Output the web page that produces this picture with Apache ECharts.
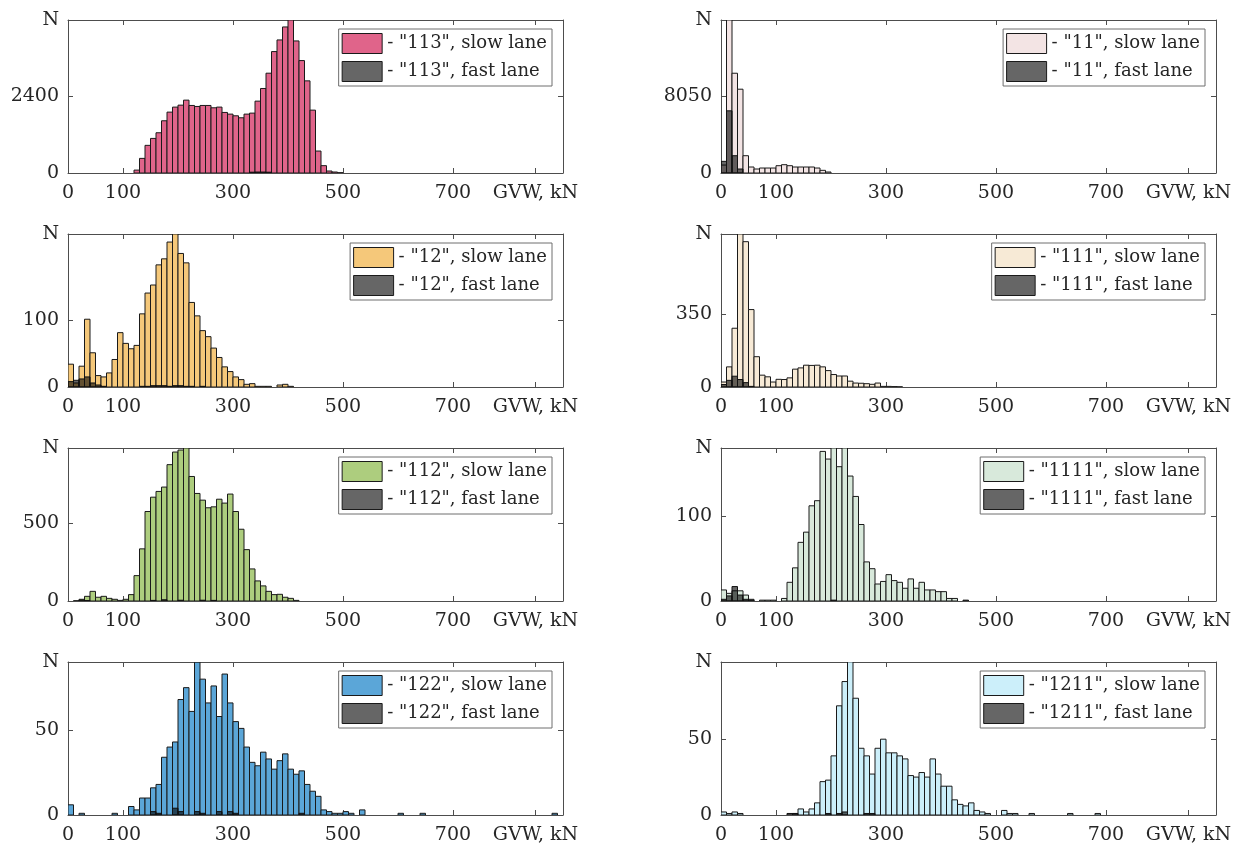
<!DOCTYPE html>
<html><head><meta charset="utf-8">
<script src="https://cdn.jsdelivr.net/npm/echarts@6/dist/echarts.min.js"></script>
<style>html,body{margin:0;padding:0;background:#fff}#c{width:1241px;height:850px}</style>
</head><body><div id="c"></div><script>
// ---------- DATA ----------
const binWidth = 10; // kN, histogram bins start at 0
const xTickValues = [0, 100, 300, 500, 700, 850];
const xTickLabels = ['0', '100', '300', '500', '700', 'GVW, kN'];

const panelNames = ['113', '11', '12', '111', '112', '1111', '122', '1211'];
const slowColors = ['#E0648A', '#F3E4E4', '#F5C87A', '#F7EAD6', '#ADCD7E', '#D8E9DB', '#5BA6D8', '#CCEFFA'];
const yMaxValues = [4760, 15965, 228, 737, 983, 180, 90.1, 100.9];
const yMidTicks = [2400, 8050, 100, 350, 500, 100, 50, 50];

// counts per 10 kN bin, first bin = 0-10 kN
const slow113 = [0,0,0,0,0,0,0,0,0,0,0,0,90,455,860,1076,1252,1625,1894,2050,2111,2267,2101,2070,2101,2101,2029,2050,1884,1832,1780,1718,1832,1863,2236,2629,3105,3778,4140,4544,4760,4109,3498,2867,1956,683,228,62,31,10];
const fast113 = [0,0,0,0,0,0,0,0,0,0,0,0,0,0,0,0,0,0,0,0,0,0,0,0,0,0,0,0,0,0,0,0,0,25,30,30,25];

const slow11 = [830,15965,10410,8744,1804,625,416,520,520,520,763,867,763,625,625,625,625,520,278,104];
const fast11 = [1215,6489,1804,416];

const slow12 = [34,6,31,101,51,17,15,21,41,81,65,57,62,109,140,152,182,191,216,228,199,185,126,106,84,75,58,44,30,23,15,11,4,5,1,1,1,0,3,4,1];
const fast12 = [8,10,12,15,6,3,1,0,0,0,0,0,0,1,1,2,2,2,1,2,2,1,1,0,1];

const slow111 = [24,97,283,737,700,373,146,57,49,24,37,36,44,86,92,105,104,105,97,79,60,53,53,28,19,18,16,13,19,3,3,2,1];
const fast111 = [12,32,52,36,21,3];

const slow112 = [0,2,11,30,62,24,30,17,11,4,11,41,163,335,575,667,704,732,876,957,970,983,800,691,648,599,605,654,629,687,575,461,330,206,129,97,62,41,43,24,17,4];
const fast112 = [0,0,6,3,0,0,0,0,0,0,0,0,0,0,0,4,0,8,0,0,5,0,0,0,5,0,4,0,0,0,0,0];

const slow1111 = [13,9,12,12,7,2,0,1,1,1,0,3,22,39,69,81,112,118,176,167,180,158,180,147,123,90,46,38,20,23,31,24,22,15,26,15,22,13,13,11,11,3,3];
const fast1111 = [2,6,17,7,2,1,0,0,0,0,0,0,0,0,0,0,0,0,0,0,1,0,0,0,0,0,0,0,0,0,0,0,0,0,0,0,0,0,0,0,0,0,0,0,1];

const slow122 = [6,0,1,0,0,0,0,0,1,0,0,5,3,10,10,16,18,34,40,43,68,75,61,90,80,66,76,58,83,66,55,51,40,31,29,37,33,27,32,36,27,24,26,18,14,11,3,2,1,1,2,1,0,3,0,0,0,0,0,0,1,0,0,0,1,0,0,0,0,0,0,0,0,0,0,0,0,0,0,0,0,0,0,0,0,0,0,0,1];
const fast122 = [0,0,0,0,0,0,0,0,0,0,0,0,0,0,0,2,1,0,0,4,2,0,0,2,1,0,0,2,0,2,1,0,0,0,0,0,0,0,0,0,0,0,1];

const slow1211 = [2,1,2,1,0,0,0,0,0,0,0,0,0,1,4,2,4,8,22,23,39,72,88,101,77,44,39,27,44,50,41,41,39,37,26,25,28,25,37,27,19,19,10,7,6,8,3,2,1,0,0,3,1,1,0,0,1,0,0,0,0,0,0,1,0,0,0,0,1];
const fast1211 = [0,0,0,0,0,0,0,0,0,0,0,0,1,1,0,0,0,0,0,1,0,1,2,0,0,0,1,1];

const slowData = [slow113, slow11, slow12, slow111, slow112, slow1111, slow122, slow1211];
const fastData = [fast113, fast11, fast12, fast111, fast112, fast1111, fast122, fast1211];

// ---------- LAYOUT / STYLE ----------
const FONT = 'DejaVu Serif';
const FS = 19;
const LFS = 18;
const TEXT = '#262626';
const AXIS = '#4d4d4d';
const colLeft = [68, 721];
const rowTop = [20, 234, 448, 662];
const gridW = 495, gridH = 153;
const legendRight = [689, 36];

const chart = echarts.init(document.getElementById('c'), null, {renderer: 'canvas'});

function binsToData(arr) {
  const out = [];
  arr.forEach((c, k) => { if (c > 0) out.push([k * binWidth, (k + 1) * binWidth, c]); });
  return out;
}
function renderer(fill, stroke) {
  return function (params, api) {
    const a = api.coord([api.value(0), 0]);
    const b = api.coord([api.value(1), api.value(2)]);
    return {
      type: 'rect',
      shape: {x: a[0], y: b[1], width: b[0] - a[0], height: a[1] - b[1]},
      style: {fill: fill, stroke: stroke, lineWidth: 1}
    };
  };
}

const grids = [], xAxes = [], yAxes = [], series = [], legends = [];
panelNames.forEach((nm, i) => {
  const col = i % 2, row = Math.floor(i / 2);
  grids.push({left: colLeft[col], top: rowTop[row], width: gridW, height: gridH});
  const lineStyle = {color: AXIS, width: 1};
  xAxes.push({
    gridIndex: i, type: 'value', min: 0, max: 900, position: 'bottom',
    axisLine: {show: true, onZero: false, lineStyle},
    axisTick: {show: true, inside: true, length: 5, lineStyle, customValues: xTickValues},
    axisLabel: {customValues: xTickValues, margin: 11, fontFamily: FONT, fontSize: FS, color: TEXT,
      formatter: v => { const k = xTickValues.indexOf(v); return k >= 0 ? xTickLabels[k] : ''; }},
    splitLine: {show: false}
  });
  xAxes.push({
    gridIndex: i, type: 'value', min: 0, max: 900, position: 'top',
    axisLine: {show: true, onZero: false, lineStyle},
    axisTick: {show: true, inside: true, length: 5, lineStyle, customValues: xTickValues},
    axisLabel: {show: false}, splitLine: {show: false}
  });
  const ymax = yMaxValues[i], ymid = yMidTicks[i];
  yAxes.push({
    gridIndex: i, type: 'value', min: 0, max: ymax, position: 'left',
    axisLine: {show: true, onZero: false, lineStyle},
    axisTick: {show: true, inside: true, length: 5, lineStyle, customValues: [ymid]},
    axisLabel: {customValues: [0, ymid, ymax], margin: 9, fontFamily: FONT, fontSize: FS, color: TEXT,
      formatter: v => (Math.abs(v - ymax) < 1e-6 ? 'N' : String(v))},
    splitLine: {show: false}
  });
  yAxes.push({
    gridIndex: i, type: 'value', min: 0, max: ymax, position: 'right',
    axisLine: {show: true, onZero: false, lineStyle},
    axisTick: {show: true, inside: true, length: 5, lineStyle, customValues: [ymid]},
    axisLabel: {show: false}, splitLine: {show: false}
  });
  const slowName = '- "' + nm + '", slow lane';
  const fastName = '- "' + nm + '", fast lane';
  series.push({
    type: 'custom', name: slowName, xAxisIndex: 2 * i, yAxisIndex: 2 * i, clip: true,
    itemStyle: {color: slowColors[i]},
    encode: {x: [0, 1], y: 2},
    renderItem: renderer(slowColors[i], '#1a1a1a'),
    data: binsToData(slowData[i]), silent: true
  });
  series.push({
    type: 'custom', name: fastName, xAxisIndex: 2 * i, yAxisIndex: 2 * i, clip: true,
    itemStyle: {color: '#666666'},
    encode: {x: [0, 1], y: 2},
    renderItem: renderer('rgba(0,0,0,0.6)', '#111111'),
    data: binsToData(fastData[i]), silent: true
  });
  legends.push({
    orient: 'vertical', right: legendRight[col], top: rowTop[row] + 9,
    data: [
      {name: slowName, icon: 'rect', itemStyle: {color: slowColors[i], borderColor: '#1a1a1a', borderWidth: 1}},
      {name: fastName, icon: 'rect', itemStyle: {color: '#666666', borderColor: '#1a1a1a', borderWidth: 1}}
    ],
    itemWidth: 40, itemHeight: 20, itemGap: 7, padding: [4, 5, 4, 3],
    borderColor: '#6e6e6e', borderWidth: 1, backgroundColor: '#ffffff',
    selectedMode: false,
    textStyle: {fontFamily: FONT, fontSize: LFS, color: TEXT}
  });
});

chart.setOption({
  animation: false,
  backgroundColor: '#ffffff',
  grid: grids, xAxis: xAxes, yAxis: yAxes, series: series, legend: legends
});
</script></body></html>
